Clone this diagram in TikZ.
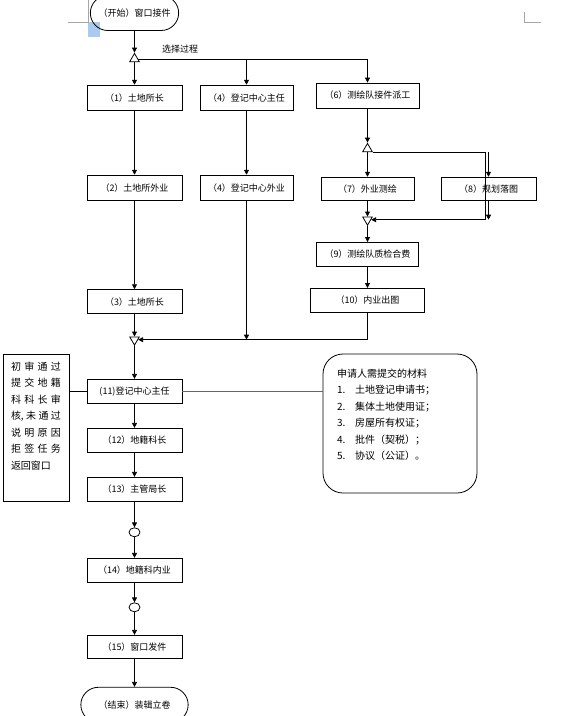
\documentclass[tikz,border=0pt]{standalone}
\usepackage{fontspec}
\usetikzlibrary{positioning,arrows.meta,shapes.geometric,shapes.misc}
\newfontfamily\cjk{Noto Sans CJK SC}
\definecolor{MarkGray}{HTML}{A6A6A6}
\definecolor{SelBlue}{HTML}{A9CBEE}
\definecolor{LinkGray}{HTML}{666666}

\begin{document}
\begin{tikzpicture}[
  x=1pt, y=-1pt,
  node distance=24pt,
  box/.style={
    draw, line width=0.8pt,
    font=\fontsize{9}{10}\selectfont\cjk,
    inner sep=2pt,
    minimum height=24pt,
    minimum width=95pt
  },
  term/.style={draw, line width=0.8pt, rounded rectangle, font=\fontsize{9}{10}\selectfont\cjk, minimum height=35pt},
  tri/.style={draw, line width=0.8pt, regular polygon, regular polygon sides=3, minimum size=11pt, inner sep=0pt},
  junc/.style={draw, line width=0.8pt, ellipse, minimum width=11pt, minimum height=9pt, inner sep=0pt},
  notebox/.style={draw, line width=0.8pt, inner sep=0pt, minimum width=66pt, font=\fontsize{10}{16.5}\selectfont\cjk},
  matbox/.style={draw, line width=0.8pt, inner sep=0pt, rounded corners=20pt, minimum width=154pt, font=\fontsize{10}{16.5}\selectfont\cjk},
  lbl/.style={font=\fontsize{9}{10}\selectfont\cjk},
  arr/.style={-{Triangle[length=5pt,width=5pt]}, line width=0.8pt},
  link/.style={line width=0.8pt}
]
\useasboundingbox (0,0) rectangle (571,716);
\clip (0,0) rectangle (571,716);

\fill[SelBlue] (88,22) rectangle (100,37);
\draw[MarkGray, line width=0.8pt] (68,22) -- (88,22) -- (88,0);
\draw[MarkGray, line width=0.8pt] (524,12) -- (524,22) -- (541,22);

\node[term, minimum width=95pt] (start) at (134.5,13) {（开始）窗口接件};
\node[tri, below=21.7pt of start] (sel) {};
\node[lbl] (selLbl) at (180,49) {选择过程};
\node[box, minimum height=25pt, below=22.7pt of sel] (n1) {（1）土地所长};
\node[box, minimum height=25pt, minimum width=93pt, right=17.2pt of n1] (n4a) {（4）登记中心主任};
\node[box, minimum height=25pt, minimum width=103pt] (n6) at (367.5,95.5) {（6）测绘队接件派工};
\node[box, minimum height=25pt, below=64.2pt of n1] (n2) {（2）土地所外业};
\node[box, minimum height=25pt, minimum width=93pt, below=64.2pt of n4a] (n4b) {（4）登记中心外业};
\node[box, below=88.7pt of n2] (n3) {（3）土地所长};
\node[tri, shape border rotate=180, below=22.45pt of n3] (mrg) {};

\node[tri, below=34.2pt of n6] (fork) {};
\node[box, minimum width=93pt, minimum height=23pt, below=24.7pt of fork] (n7) {（7）外业测绘};
\node[box, minimum width=95pt, minimum height=23pt, right=26.2pt of n7] (n8) {（8）规划落图};
\node[tri, shape border rotate=180, below=16pt of n7] (join) {};
\node[box, minimum width=102pt, below=16pt of join] (n9) {（9）测绘队质检合费};
\node[box, minimum width=114pt, below=21.2pt of n9] (n10) {（10）内业出图};

\node[box, below=32.95pt of mrg] (n11) {(11)登记中心主任};
\node[box, below=24.2pt of n11] (n12) {（12）地籍科长};
\node[box, below=24.2pt of n12] (n13) {（13）主管局长};
\node[junc, below=25.7pt of n13] (c1) {};
\node[box, below=20.7pt of c1] (n14) {（14）地籍科内业};
\node[junc, below=19.7pt of n14] (c2) {};
\node[box, minimum height=23pt, below=22.7pt of c2] (n15) {（15）窗口发件};
\node[term, minimum width=114pt, below=28.2pt of n15] (fin) {（结束）装辑立卷};

\node[notebox] (note) at (36,427.5) {\parbox[c][147pt][t]{50pt}{\vspace*{8pt}%
  初\hfill 审\hfill 通\hfill 过\\
  提\hfill 交\hfill 地\hfill 籍\\
  科\hfill 科\hfill 长\hfill 审\\
  核,\hfill 未\hfill 通\hfill 过\\
  说\hfill 明\hfill 原\hfill 因\\
  拒\hfill 签\hfill 任\hfill 务\\
  返回窗口}};
\node[matbox] (mat) at (400,423.5) {\parbox[c][139pt][t]{126pt}{\vspace*{15pt}%
  申请人需提交的材料\\
  \makebox[18pt][l]{1.}土地登记申请书；\\
  \makebox[18pt][l]{2.}集体土地使用证；\\
  \makebox[18pt][l]{3.}房屋所有权证；\\
  \makebox[18pt][l]{4.}批件（契税）；\\
  \makebox[18pt][l]{5.}协议（公证）。}};

\draw[arr] (start) -- (sel);
\draw[arr] (sel) -- (n1);
\draw[arr] (sel.east) -| (n6);
\draw[arr] (sel.east -| n4a) -- (n4a);
\draw[arr] (n1) -- (n2);
\draw[arr] (n2) -- (n3);
\draw[arr] (n3) -- (mrg);
\draw[arr] (n4a) -- (n4b);
\draw[arr] (n4b) -- (n4b |- mrg.east);
\draw[arr] (n10) |- (mrg.east);

\draw[arr] (n6) -- (fork);
\draw[arr] (fork) -- (n7);
\coordinate (back) at ([xshift=-3.5pt]n8.center |- join.east);
\draw[arr] (fork.corner 3) -| (back) -- (join.east);
\draw[arr] (fork.corner 3 -| n8) -- (n8);
\draw[arr] (n8) -- (n8 |- join.east);
\draw[arr] (n7) -- (join);
\draw[arr] (join) -- (n9);
\draw[arr] (n9) -- (n10);

\draw[arr] (mrg) -- (n11);
\draw[link] (note.east |- n11) -- (n11);
\draw[link, draw=LinkGray] (n11) -- (n11 -| mat.west);
\draw[arr] (n11) -- (n12);
\draw[arr] (n12) -- (n13);
\draw[arr] (n13) -- (c1);
\draw[arr] (c1) -- (n14);
\draw[arr] (n14) -- (c2);
\draw[arr] (c2) -- (n15);
\draw[arr] (n15) -- (fin);
\end{tikzpicture}
\end{document}
